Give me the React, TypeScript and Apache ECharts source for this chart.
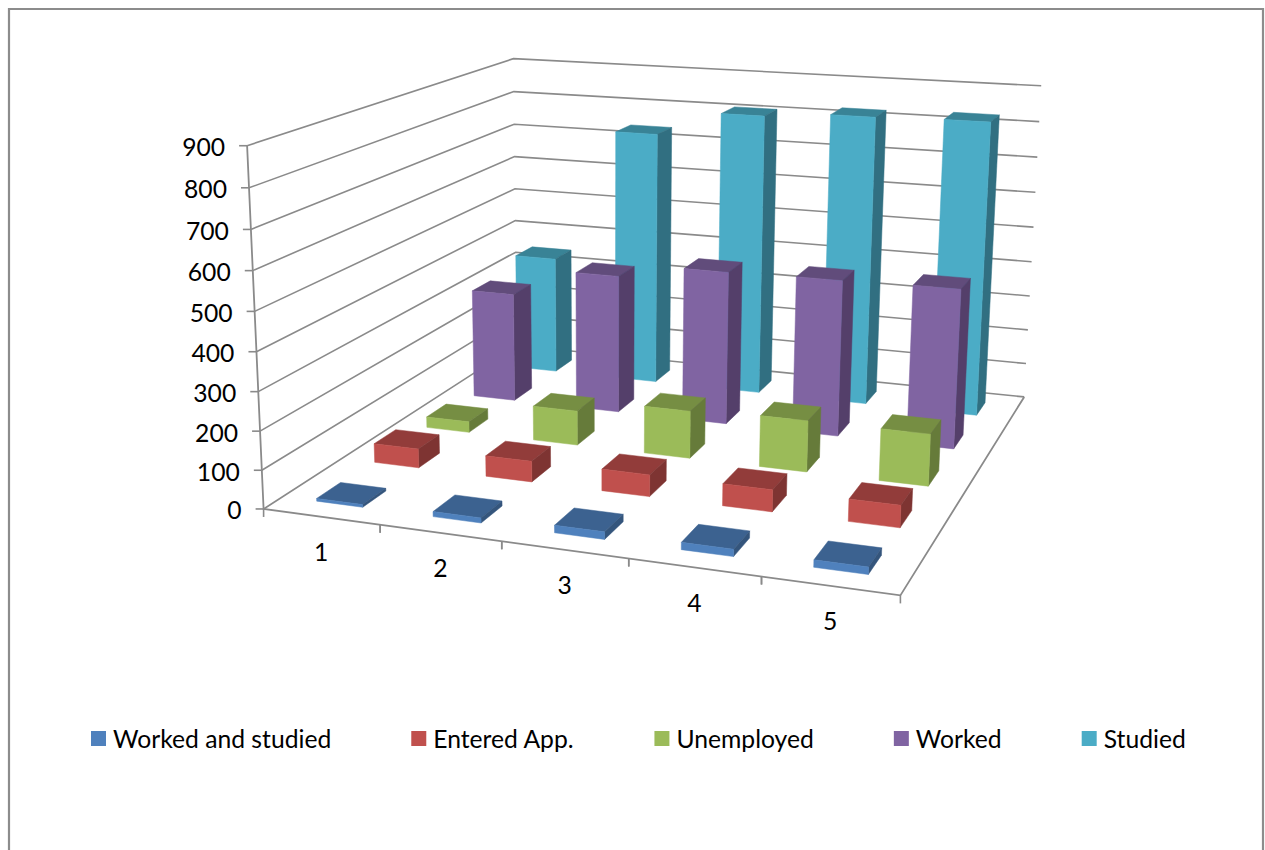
import React, { useEffect, useRef } from "react";
import * as echarts from "echarts";

const categories = ["1", "2", "3", "4", "5"];
const valueTicks = [0, 100, 200, 300, 400, 500, 600, 700, 800, 900];
const valueMax = 900;

const workedAndStudied = [7, 13, 19, 18, 18];
const enteredApp = [51, 55, 57, 57, 57];
const unemployed = [30, 95, 129, 138, 138];
const worked = [312, 392, 430, 434, 438];
const studied = [345, 737, 808, 823, 828];

// Front, top and side shades for each series, nearest row first.
const rows = [
  { name: "Worked and studied", values: workedAndStudied, front: "#4F81BD", top: "#3C6290", side: "#34557C" },
  { name: "Entered App.", values: enteredApp, front: "#C0504D", top: "#923C3A", side: "#7E3432" },
  { name: "Unemployed", values: unemployed, front: "#9BBB59", top: "#768E43", side: "#667B3A" },
  { name: "Worked", values: worked, front: "#8064A2", top: "#614C7B", side: "#543F6A" },
  { name: "Studied", values: studied, front: "#4BACC6", top: "#398396", side: "#316F81" },
];

const LABEL_FONT = "24.7px Lato";
const LINE = "#8A8A8A";

// Box corners of the chart space (category, depth, value, all 0..1) and where they land on the page.
const anchors: number[][] = [
  [0, 0, 0, 265.3, 510],
  [1, 0, 0, 900, 595],
  [1, 1, 0, 1025, 397.3],
  [0, 1, 0, 515, 344.6],
  [0, 0, 1, 245.7, 145],
  [0, 1, 1, 515, 59.3],
  [1, 1, 1, 1040.7, 85.7],
];

// Least-squares fit of a projective camera through the anchors.
function fitCamera(points: number[][]): number[] {
  const eqs: number[][] = [];
  for (const [x, y, z, u, v] of points) {
    eqs.push([x, y, z, 1, 0, 0, 0, 0, -u * x, -u * y, -u * z, u]);
    eqs.push([0, 0, 0, 0, x, y, z, 1, -v * x, -v * y, -v * z, v]);
  }
  const n = 11;
  const m: number[][] = [];
  for (let r = 0; r < n; r++) {
    const row: number[] = [];
    for (let c = 0; c <= n; c++) {
      let s = 0;
      for (const e of eqs) s += e[r] * e[c];
      row.push(s);
    }
    m.push(row);
  }
  for (let c = 0; c < n; c++) {
    let piv = c;
    for (let r = c + 1; r < n; r++) if (Math.abs(m[r][c]) > Math.abs(m[piv][c])) piv = r;
    [m[c], m[piv]] = [m[piv], m[c]];
    for (let r = 0; r < n; r++) {
      if (r === c) continue;
      const f = m[r][c] / m[c][c];
      for (let k = c; k <= n; k++) m[r][k] -= f * m[c][k];
    }
  }
  return m.map((row, i) => row[n] / row[i]);
}

const cam = fitCamera(anchors);
function project(x: number, y: number, z: number): number[] {
  const w = cam[8] * x + cam[9] * y + cam[10] * z + 1;
  return [
    (cam[0] * x + cam[1] * y + cam[2] * z + cam[3]) / w,
    (cam[4] * x + cam[5] * y + cam[6] * z + cam[7]) / w,
  ];
}

const BAR_INSET = 0.3;

function barRenderer(row: number, front: string, top: string, side: string) {
  return (_params: any, api: any) => {
    const cat = api.value(0) as number;
    const val = api.value(1) as number;
    const x0 = (cat + BAR_INSET) / categories.length;
    const x1 = (cat + 1 - BAR_INSET) / categories.length;
    const y0 = (row + BAR_INSET) / rows.length;
    const y1 = (row + 1 - BAR_INSET) / rows.length;
    const h = val / valueMax;
    const face = (pts: number[][], color: string) => ({
      type: "polygon",
      shape: { points: pts.map((p) => project(p[0], p[1], p[2])) },
      style: { fill: color, stroke: color, lineWidth: 0.5 },
    });
    return {
      type: "group",
      children: [
        face([[x0, y0, h], [x1, y0, h], [x1, y1, h], [x0, y1, h]], top),
        face([[x1, y0, 0], [x1, y1, 0], [x1, y1, h], [x1, y0, h]], side),
        face([[x0, y0, 0], [x1, y0, 0], [x1, y0, h], [x0, y0, h]], front),
      ],
    };
  };
}

function gridRenderer(_params: any, api: any) {
  const val = api.value(0) as number;
  const z = val / valueMax;
  const a = project(0, 0, z);
  const b = project(0, 1, z);
  const c = project(1, 1, z);
  return {
    type: "group",
    children: [
      { type: "polyline", shape: { points: [a, b, c] }, style: { fill: "none", stroke: LINE, lineWidth: 1.6 } },
      { type: "line", shape: { x1: a[0] - 8, y1: a[1], x2: a[0], y2: a[1] }, style: { stroke: LINE, lineWidth: 1.6 } },
      {
        type: "text",
        style: {
          x: a[0] - 22,
          y: a[1] + 1,
          text: String(val),
          font: LABEL_FONT,
          fill: "#000",
          align: "right",
          verticalAlign: "middle",
        },
      },
    ],
  };
}

function categoryRenderer(_params: any, api: any) {
  const i = api.value(0) as number;
  const tickAt = (k: number) => {
    const p = project(k / categories.length, 0, 0);
    return { type: "line", shape: { x1: p[0], y1: p[1], x2: p[0], y2: p[1] + 8 }, style: { stroke: LINE, lineWidth: 1.6 } };
  };
  const mid = project((i + 0.5) / categories.length, 0, 0);
  return {
    type: "group",
    children: [
      tickAt(i),
      tickAt(i + 1),
      {
        type: "text",
        style: {
          x: mid[0],
          y: mid[1] + 35,
          text: categories[i],
          font: LABEL_FONT,
          fill: "#000",
          align: "center",
          verticalAlign: "middle",
        },
      },
    ],
  };
}

function axisFrameRenderer() {
  const pts = [project(0, 0, 1), project(0, 0, 0), project(1, 0, 0), project(1, 1, 0)];
  return { type: "polyline", shape: { points: pts }, style: { fill: "none", stroke: LINE, lineWidth: 1.8 } };
}

export default function App() {
  const ref = useRef<HTMLDivElement>(null);

  useEffect(() => {
    const chart = echarts.init(ref.current!, undefined, { renderer: "svg" });
    const bars = rows.map((r, j) => ({
      type: "custom",
      name: r.name,
      coordinateSystem: "none",
      z: 10 - j,
      silent: true,
      itemStyle: { color: r.front },
      data: r.values.map((v, i) => [i, v]),
      renderItem: barRenderer(j, r.front, r.top, r.side),
    }));
    chart.setOption({
      animation: false,
      backgroundColor: "#FFFFFF",
      graphic: [
        {
          type: "rect",
          shape: { x: 9, y: 9, width: 1254, height: 900 },
          style: { fill: "none", stroke: "#8C8C8C", lineWidth: 2.2 },
          z: 0,
        },
      ],
      legend: {
        left: 91,
        top: 726,
        orient: "horizontal",
        icon: "rect",
        itemWidth: 15,
        itemHeight: 15,
        itemGap: 80,
        padding: 0,
        selectedMode: false,
        data: rows.map((r) => r.name),
        textStyle: { fontFamily: "Lato", fontSize: 24.7, color: "#000", padding: [0, 0, 0, 2] },
      },
      series: [
        {
          type: "custom",
          name: "Gridlines",
          coordinateSystem: "none",
          z: 1,
          silent: true,
          data: valueTicks.map((v) => [v]),
          renderItem: gridRenderer,
        },
        {
          type: "custom",
          name: "Categories",
          coordinateSystem: "none",
          z: 1,
          silent: true,
          data: categories.map((_c, i) => [i]),
          renderItem: categoryRenderer,
        },
        {
          type: "custom",
          name: "Axis frame",
          coordinateSystem: "none",
          z: 2,
          silent: true,
          data: [[0]],
          renderItem: axisFrameRenderer,
        },
        ...bars,
      ],
    });
    return () => chart.dispose();
  }, []);

  return <div ref={ref} style={{ position: "fixed", left: 0, top: 0, width: 1265, height: 850 }} />;
}
